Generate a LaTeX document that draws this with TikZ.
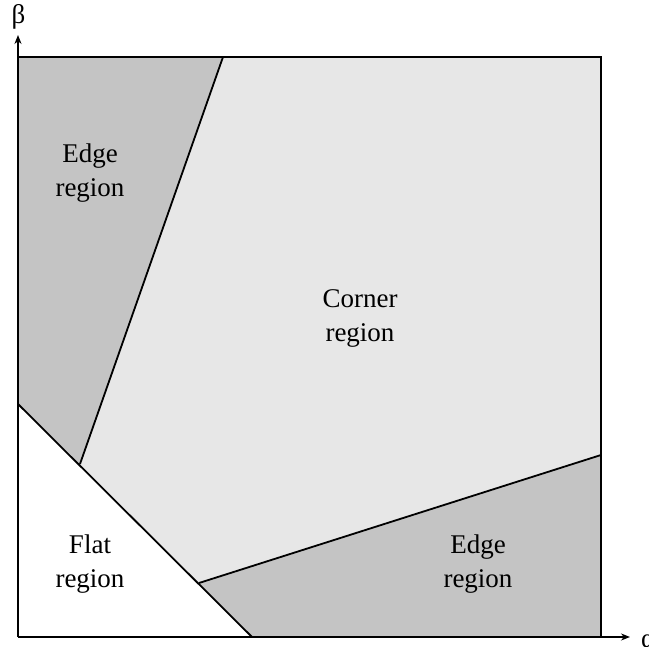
\documentclass[tikz,border=0pt]{standalone}
\usepackage{fontspec}
\setmainfont{Liberation Serif}
\usetikzlibrary{arrows.meta}
\definecolor{edgegray}{RGB}{196,196,196}
\definecolor{cornergray}{RGB}{231,231,231}
\tikzset{
  boundary/.style={draw=black, line width=1.8pt},
  axis/.style={draw=black, line width=1.5pt, -{Stealth[length=9pt,width=7pt]}},
  label/.style={align=center, font=\fontsize{27}{34}\selectfont, inner sep=0pt},
  axislabel/.style={font=\fontsize{27}{30}\selectfont, inner sep=0pt}
}
\begin{document}
\begin{tikzpicture}[x=1pt, y=-1pt]
  \useasboundingbox (0,0) rectangle (649,647);
  % corners of the plot area and the region boundaries
  \coordinate (O)  at (18,637);
  \coordinate (TL) at (18,57);
  \coordinate (TR) at (601,57);
  \coordinate (BR) at (601,637);
  \coordinate (A)  at (223,57);   % top end of the upper edge boundary
  \coordinate (B)  at (80,464);   % lower end of the upper edge boundary
  \coordinate (C)  at (18,404);   % flat boundary on the beta axis
  \coordinate (D)  at (252,637);  % flat boundary on the alpha axis
  \coordinate (E)  at (199,583);  % left end of the lower edge boundary
  \coordinate (F)  at (601,455);  % right end of the lower edge boundary
  % region fills
  \fill[edgegray]   (TL) -- (A) -- (B) -- (C) -- cycle;
  \fill[cornergray] (A) -- (TR) -- (F) -- (E) -- (B) -- cycle;
  \fill[edgegray]   (E) -- (F) -- (BR) -- (D) -- cycle;
  % region boundaries
  \draw[boundary] (A) -- (B);
  \draw[boundary] (C) -- (D);
  \draw[boundary] (E) -- (F);
  \draw[boundary] (TL) -- (TR) -- (BR);
  % axes
  \draw[axis] (O) -- (18,35) coordinate (yend);
  \draw[axis] (O) -- (630,637) coordinate (xend);
  \node[axislabel, anchor=base] (beta) at (18.5,24) {β};
  \node[axislabel, anchor=base west] (alpha) at (641,647) {α};
  % region labels
  \node[label] (edge1) at (90,173) {Edge\\region};
  \node[label] (corner) at (360,318) {Corner\\region};
  \node[label] (flat) at (90,564) {Flat\\region};
  \node[label] (edge2) at (478,564) {Edge\\region};
\end{tikzpicture}
\end{document}
